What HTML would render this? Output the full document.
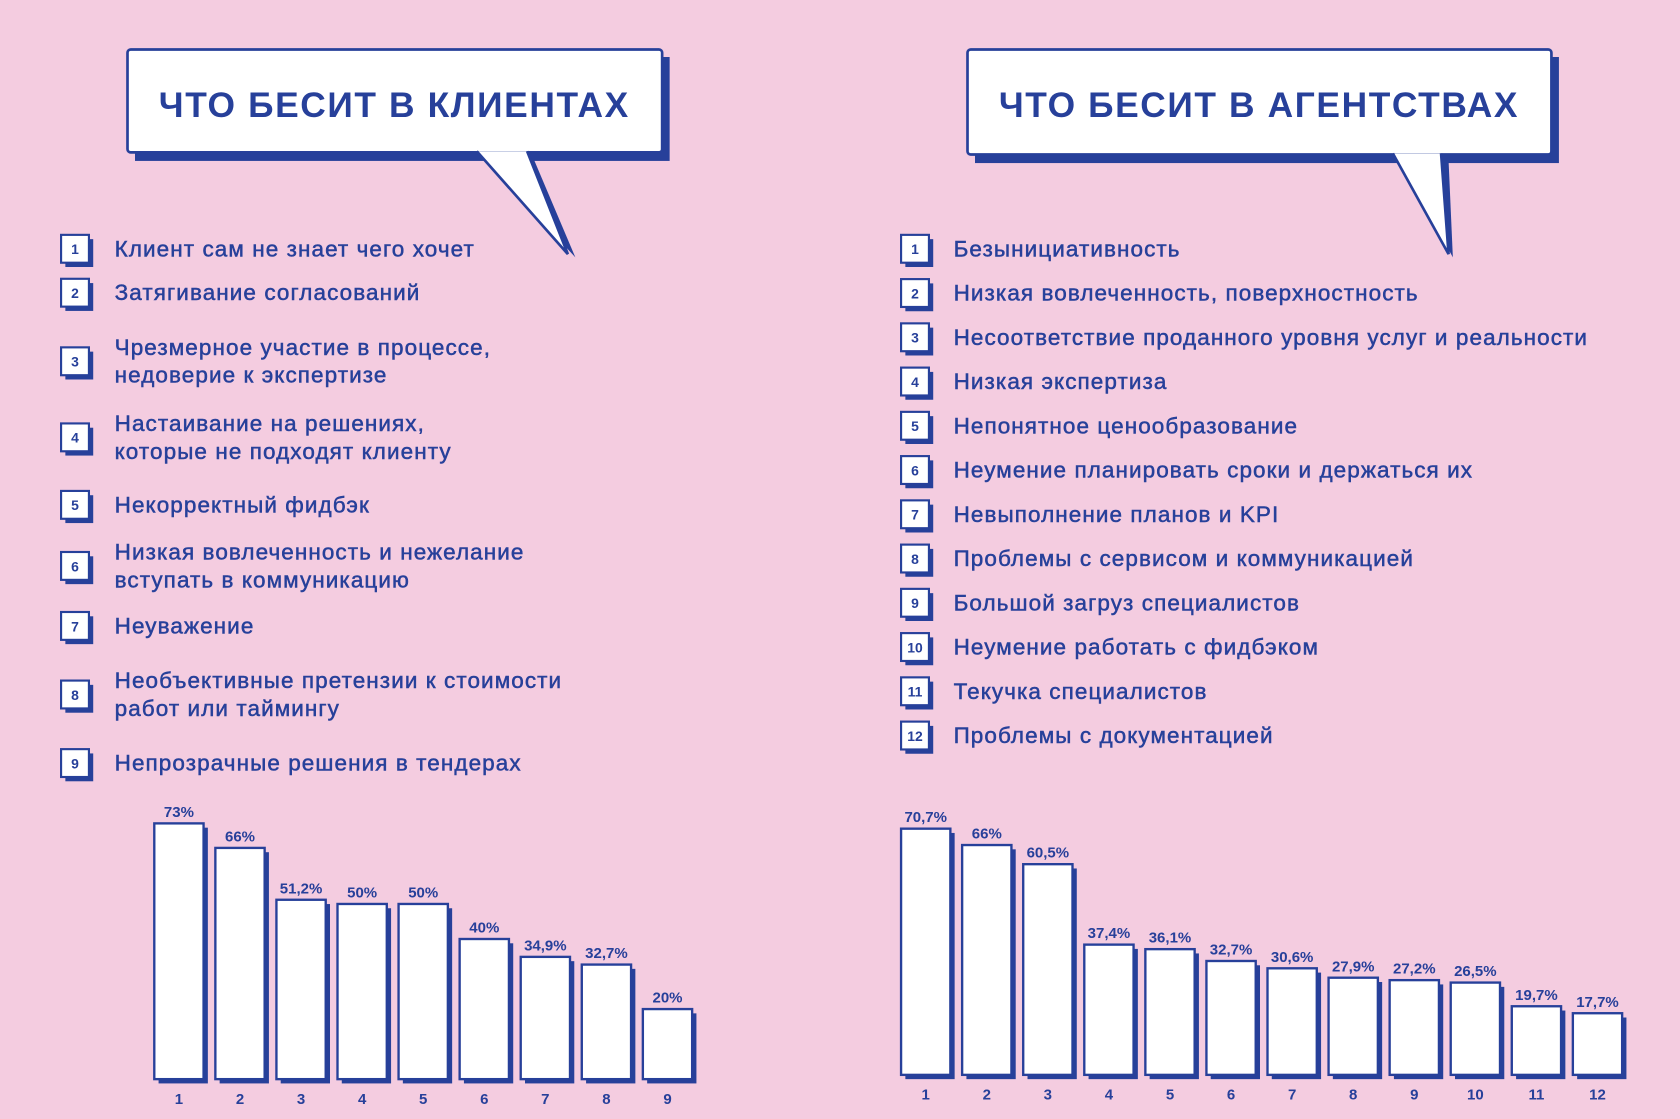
<!DOCTYPE html>
<html><head><meta charset="utf-8"><style>
html,body{margin:0;padding:0;background:#f4cce0}
svg{display:block}
text{font-family:"Liberation Sans","DejaVu Sans",sans-serif;fill:#27409a}
.it{stroke:#27409a;stroke-width:0.45;letter-spacing:1px}
</style></head><body>
<svg id="s" width="1680" height="1119" viewBox="0 0 1568 1044" xmlns="http://www.w3.org/2000/svg">
<rect width="1568" height="1044" fill="#f4cce0"/>
<g>
<rect x="126" y="53" width="499" height="97" fill="#27409a"/>
<path d="M452 148 L537 240 L498 148 Z" fill="#27409a"/>
<rect x="119" y="46" width="499" height="96" rx="3" fill="#fff" stroke="#27409a" stroke-width="2.5"/>
<path d="M445 141 L530 237 L492 141" fill="#fff" stroke="#27409a" stroke-width="2.5"/>
<text x="368" y="109" text-anchor="middle" font-size="33" font-weight="bold" letter-spacing="1.5">ЧТО БЕСИТ В КЛИЕНТАХ</text>
</g>
<g>
<rect x="910" y="53" width="545" height="99" fill="#27409a"/>
<path d="M1307 150 L1356 240 L1352 150 Z" fill="#27409a"/>
<rect x="903" y="46" width="545" height="98" rx="3" fill="#fff" stroke="#27409a" stroke-width="2.5"/>
<path d="M1300 143 L1352 237 L1345 143" fill="#fff" stroke="#27409a" stroke-width="2.5"/>
<text x="1175" y="109" text-anchor="middle" font-size="33" font-weight="bold" letter-spacing="1.5">ЧТО БЕСИТ В АГЕНТСТВАХ</text>
</g>
<g id="lists"></g>
<g id="charts"></g>
</svg>
<script>
const NS="http://www.w3.org/2000/svg";
const leftItems=[["Клиент сам не знает чего хочет"],["Затягивание согласований"],["Чрезмерное участие в процессе,","недоверие к экспертизе"],["Настаивание на решениях,","которые не подходят клиенту"],["Некорректный фидбэк"],["Низкая вовлеченность и нежелание","вступать в коммуникацию"],["Неуважение"],["Необъективные претензии к стоимости","работ или таймингу"],["Непрозрачные решения в тендерах"]];
const leftY=[232,273,337,408,471,528,584,648,712];
const rightItems=["Безынициативность","Низкая вовлеченность, поверхностность","Несоответствие проданного уровня услуг и реальности","Низкая экспертиза","Непонятное ценообразование","Неумение планировать сроки и держаться их","Невыполнение планов и KPI","Проблемы с сервисом и коммуникацией","Большой загруз специалистов","Неумение работать с фидбэком","Текучка специалистов","Проблемы с документацией"];
const leftCats=["1","2","3","4","5","6","7","8","9"];
const leftVals=[73,66,51.2,50,50,40,34.9,32.7,20];
const leftLabels=["73%","66%","51,2%","50%","50%","40%","34,9%","32,7%","20%"];
const rightCats=["1","2","3","4","5","6","7","8","9","10","11","12"];
const rightVals=[70.7,66,60.5,37.4,36.1,32.7,30.6,27.9,27.2,26.5,19.7,17.7];
const rightLabels=["70,7%","66%","60,5%","37,4%","36,1%","32,7%","30,6%","27,9%","27,2%","26,5%","19,7%","17,7%"];
function el(t,a,p){const e=document.createElementNS(NS,t);for(const k in a)e.setAttribute(k,a[k]);p.appendChild(e);return e;}
const lists=document.getElementById('lists');
function badge(x,cy,n,g){
 el('rect',{x:x+4,y:cy-13+4,width:26,height:26,fill:'#27409a'},g);
 el('rect',{x:x,y:cy-13,width:26,height:26,fill:'#fff',stroke:'#27409a','stroke-width':2},g);
 const t=el('text',{x:x+13,y:cy+5,'text-anchor':'middle','font-size':13,'font-weight':'bold'},g);t.textContent=n;
}
leftItems.forEach((lines,i)=>{
 const g=el('g',{},lists);
 
 
 const cy=leftY[i];
 badge(57,cy,String(i+1),g);
 lines.forEach((l,j)=>{const t=el('text',{class:'it',x:107,y:cy+7-(lines.length-1)*13+j*26,'font-size':21},g);t.textContent=l;});
});
rightItems.forEach((l,i)=>{
 const g=el('g',{},lists);
 
 
 const cy=232+i*41.3;
 badge(841,cy,String(i+1),g);
 const t=el('text',{class:'it',x:890,y:cy+7,'font-size':21},g);t.textContent=l;
});
const charts=document.getElementById('charts');
function chart(name,cats,vals,labels,x0,base,scale,numY){
 const g=el('g',{},charts);
 
 
 const xs=i=>x0+i*57, ys=v=>base-v*scale;
 vals.forEach((v,i)=>{
  const x=xs(i),y=ys(v);
  el('rect',{x:x+4,y:y+4,width:46,height:base-y,fill:'#27409a'},g);
  const b=el('rect',{x:x,y:y,width:46,height:base-y,fill:'#fff',stroke:'#27409a','stroke-width':2.2},g);
  
  
  const t=el('text',{x:x+23,y:y-6,'text-anchor':'middle','font-size':14,'font-weight':'bold'},g);t.textContent=labels[i];
  const c=el('text',{x:x+23,y:numY,'text-anchor':'middle','font-size':14,'font-weight':'bold'},g);c.textContent=cats[i];
 });
}
chart('left-bar-chart',leftCats,leftVals,leftLabels,144,1007,3.27,1030);
chart('right-bar-chart',rightCats,rightVals,rightLabels,841,1003,3.25,1026);
</script>
</body></html>
